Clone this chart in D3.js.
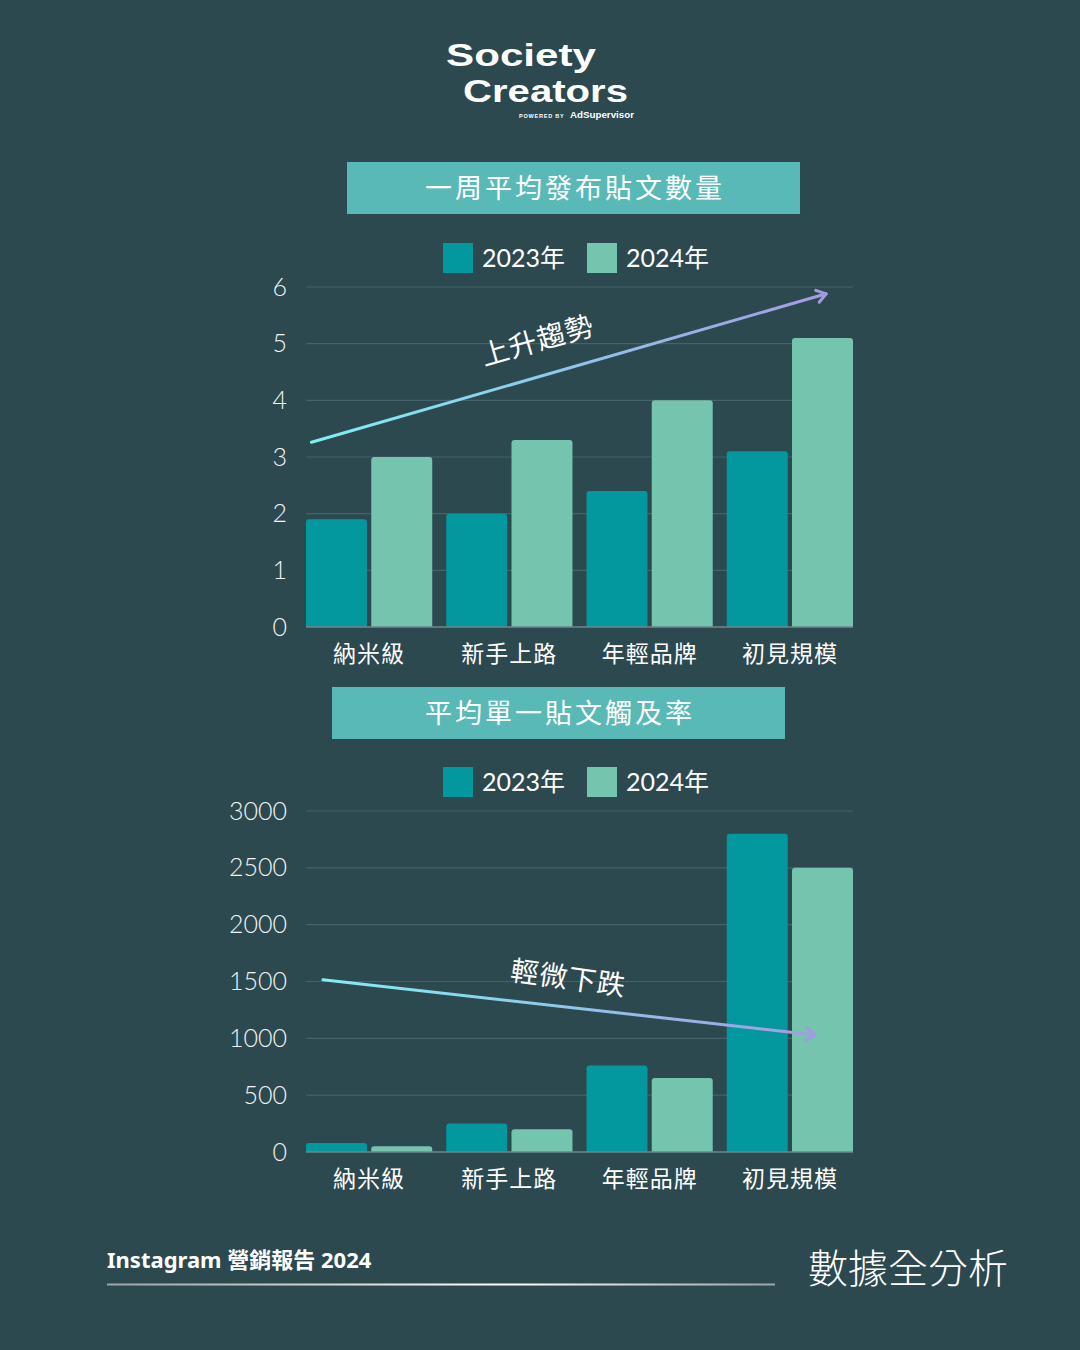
<!DOCTYPE html>
<html><head><meta charset="utf-8">
<script src="https://cdn.jsdelivr.net/npm/d3@7"></script>
<style>
html,body{margin:0;padding:0;background:#2c4950;}
svg{display:block;}
</style></head>
<body>
<svg id="c" width="1080" height="1350"></svg>
<script>
const categories = ["納米級","新手上路","年輕品牌","初見規模"];
const seriesNames = ["2023年","2024年"];
const postsPerWeek2023 = [1.9, 2.0, 2.4, 3.1];
const postsPerWeek2024 = [3.0, 3.3, 4.0, 5.1];
const postsTicks = [0,1,2,3,4,5,6];
const reach2023 = [80, 250, 760, 2800];
const reach2024 = [50, 200, 650, 2500];
const reachTicks = [0,500,1000,1500,2000,2500,3000];
const chartTitles = ["一周平均發布貼文數量","平均單一貼文觸及率"];
const trendLabels = ["上升趨勢","輕微下跌"];
// trend arrows in data units: [start value, end value]
const trendPosts = [3.26, 5.88];
const trendReach = [1515, 1030];

const colors = ["#03989d","#74c4ae"];
const bg = "#2c4950";
const fontNum = "Lato, 'Noto Sans CJK TC', sans-serif";
const fontCJK = "'Noto Sans CJK TC', sans-serif";

const svg = d3.select("#c");
svg.append("rect").attr("width",1080).attr("height",1350).attr("fill",bg);

const defs = svg.append("defs");
const grad = defs.append("linearGradient").attr("id","arrowGrad").attr("x1","0%").attr("x2","100%");
grad.append("stop").attr("offset","0%").attr("stop-color","#7ff0f2");
grad.append("stop").attr("offset","100%").attr("stop-color","#a39be0");
const lg = defs.append("linearGradient").attr("id","lineGrad").attr("x1","0%").attr("x2","100%");
lg.append("stop").attr("offset","0%").attr("stop-color","#9aa6a8");
lg.append("stop").attr("offset","60%").attr("stop-color","#ffffff");
lg.append("stop").attr("offset","100%").attr("stop-color","#9aa6a8");

// Logo
const logo = svg.append("g").attr("fill","#fff").attr("font-family","'Liberation Sans', Arial, sans-serif").attr("font-weight",700);
logo.append("text").attr("x",446).attr("y",66).attr("font-size",32).attr("textLength",150).attr("lengthAdjust","spacingAndGlyphs").text("Society");
logo.append("text").attr("x",463).attr("y",102).attr("font-size",32).attr("textLength",165).attr("lengthAdjust","spacingAndGlyphs").text("Creators");
logo.append("text").attr("x",519).attr("y",117.5).attr("font-size",5.5).attr("font-weight",700).attr("letter-spacing",0.8).text("POWERED BY");
logo.append("text").attr("x",570).attr("y",117.5).attr("font-size",9).attr("font-weight",700).attr("textLength",64).attr("lengthAdjust","spacingAndGlyphs").text("AdSupervisor");

function drawChart(cfg){
  const g = svg.append("g");
  // title box
  g.append("rect").attr("x",cfg.boxX).attr("y",cfg.boxY).attr("width",453).attr("height",52).attr("fill","#58b9b7");
  g.append("text").attr("x",cfg.boxX+228).attr("y",cfg.boxY+36).attr("text-anchor","middle")
    .attr("fill","#fff").attr("font-family",fontCJK).attr("font-size",27).attr("font-weight",400).attr("letter-spacing",3).text(cfg.title);
  // legend
  const leg = g.append("g");
  seriesNames.forEach((s,i)=>{
    const lx = 443 + i*144;
    leg.append("rect").attr("x",lx).attr("y",cfg.legendY).attr("width",30).attr("height",30).attr("fill",colors[i]);
    leg.append("text").attr("x",lx+39).attr("y",cfg.legendY+24).attr("fill","#fff")
      .attr("font-family",fontNum).attr("font-size",25).text(s);
  });

  const x0 = d3.scaleBand().domain(categories).range([306,853]).paddingInner(0.1).paddingOuter(0);
  const x1 = d3.scaleBand().domain([0,1]).range([0,x0.bandwidth()]).paddingInner(0.065);
  const y = d3.scaleLinear().domain([0,cfg.max]).range([cfg.bottom,cfg.top]);

  // grid
  g.append("g").selectAll("line").data(cfg.ticks.filter(t=>t>0)).join("line")
    .attr("x1",306).attr("x2",853).attr("y1",d=>y(d)).attr("y2",d=>y(d))
    .attr("stroke","#44636a").attr("stroke-width",1.2);

  // y axis labels
  const yAxis = d3.axisLeft(y).tickValues(cfg.ticks).tickFormat(d3.format("d")).tickSize(0).tickPadding(0);
  const ya = g.append("g").attr("transform","translate(287,0)").call(yAxis);
  ya.select(".domain").remove();
  ya.selectAll("text").attr("fill","#f2f4f4").attr("font-family",fontNum).attr("font-size",25).attr("font-weight",300);

  // bars
  const data = categories.map((c,i)=>({c, v:[cfg.s1[i], cfg.s2[i]]}));
  const grp = g.append("g").selectAll("g").data(data).join("g").attr("transform",d=>`translate(${x0(d.c)},0)`);
  grp.selectAll("path").data(d=>d.v.map((v,k)=>({v,k}))).join("path")
    .attr("fill",d=>colors[d.k])
    .attr("d",d=>{
      const xx = x1(d.k), w = x1.bandwidth(), yt = y(d.v), yb = y(0), r = Math.min(3,(yb-yt)/2);
      return `M${xx},${yb}V${yt+r}Q${xx},${yt} ${xx+r},${yt}H${xx+w-r}Q${xx+w},${yt} ${xx+w},${yt+r}V${yb}Z`;
    });

  // baseline
  g.append("line").attr("x1",306).attr("x2",853).attr("y1",y(0)).attr("y2",y(0)).attr("stroke","#70868b").attr("stroke-width",1.5);

  // x axis labels
  const xAxis = d3.axisBottom(x0).tickSize(0).tickPadding(0);
  const xa = g.append("g").attr("transform",`translate(0,${y(0)+35})`).call(xAxis);
  xa.select(".domain").remove();
  xa.selectAll("text").attr("fill","#fff").attr("font-family",fontCJK).attr("font-size",23).attr("dy",0).attr("letter-spacing",1);

  // trend arrow
  const fx = d3.scaleLinear().domain([0,1]).range([306,853]);
  const ax1 = fx(cfg.arrowX[0]), ax2 = fx(cfg.arrowX[1]);
  const ay1 = y(cfg.trend[0]), ay2 = y(cfg.trend[1]);
  g.append("line").attr("x1",ax1).attr("y1",ay1).attr("x2",ax2).attr("y2",ay2)
    .attr("stroke","url(#arrowGrad)").attr("stroke-width",3).attr("stroke-linecap","round");
  const ang = Math.atan2(ay2-ay1, ax2-ax1);
  const hl = 11;
  const head = d3.path();
  head.moveTo(ax2 + hl*Math.cos(ang+Math.PI-0.6), ay2 + hl*Math.sin(ang+Math.PI-0.6));
  head.lineTo(ax2, ay2);
  head.lineTo(ax2 + hl*Math.cos(ang+Math.PI+0.6), ay2 + hl*Math.sin(ang+Math.PI+0.6));
  g.append("path").attr("d",head.toString()).attr("fill","none").attr("stroke","#a39be0").attr("stroke-width",3)
    .attr("stroke-linecap","round").attr("stroke-linejoin","round");
  g.append("text").attr("transform",`translate(${cfg.labelPos[0]},${cfg.labelPos[1]}) rotate(${cfg.labelRot})`)
    .attr("text-anchor","middle").attr("fill","#fff").attr("font-family",fontCJK).attr("font-size",28).attr("font-weight",400)
    .attr("letter-spacing",1).text(cfg.label);
}

drawChart({title:chartTitles[0], boxX:347, boxY:162, legendY:243, top:287, bottom:627, max:6, ticks:postsTicks,
  s1:postsPerWeek2023, s2:postsPerWeek2024, trend:trendPosts, arrowX:[0.01,0.951], label:trendLabels[0], labelPos:[540,350], labelRot:-16});
drawChart({title:chartTitles[1], boxX:332, boxY:687, legendY:767, top:811, bottom:1152, max:3000, ticks:reachTicks,
  s1:reach2023, s2:reach2024, trend:trendReach, arrowX:[0.031,0.931], label:trendLabels[1], labelPos:[567,988], labelRot:8});

// footer
svg.append("text").attr("x",107).attr("y",1268).attr("fill","#fff").attr("font-family","'Noto Sans', 'Noto Sans CJK TC', sans-serif")
  .attr("font-weight",700).attr("font-size",22).text("Instagram 營銷報告 2024");
svg.append("rect").attr("x",107).attr("y",1283.5).attr("width",668).attr("height",2).attr("fill","url(#lineGrad)");
svg.append("text").attr("x",1008).attr("y",1283).attr("text-anchor","end").attr("fill","#fff").attr("font-family",fontCJK)
  .attr("font-weight",300).attr("font-size",40).text("數據全分析");
</script>
</body></html>
